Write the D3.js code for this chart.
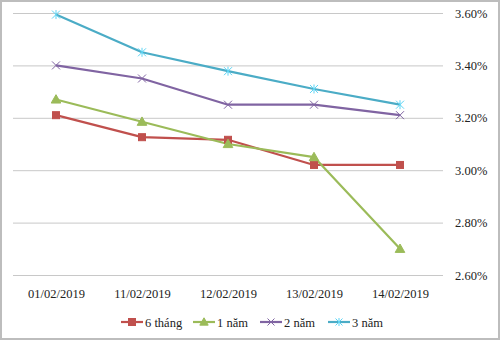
<!DOCTYPE html>
<html>
<head>
<meta charset="utf-8">
<script src="https://cdn.jsdelivr.net/npm/d3@7"></script>
<style>
  html, body { margin: 0; padding: 0; background: #fff; }
  svg { display: block; }
  text { font-family: "Liberation Serif", "Times New Roman", serif; fill: #222; }
</style>
</head>
<body>
<svg id="chart" width="500" height="340"></svg>
<script>
// Interest rates by term (%)
const dates = ["01/02/2019", "11/02/2019", "12/02/2019", "13/02/2019", "14/02/2019"];
const seriesNames = ["6 tháng", "1 năm", "2 năm", "3 năm"];
const sixMonths = [3.21, 3.126, 3.116, 3.02, 3.02];
const oneYear = [3.27, 3.185, 3.10, 3.05, 2.70];
const twoYears = [3.40, 3.35, 3.25, 3.25, 3.21];
const threeYears = [3.594, 3.45, 3.378, 3.31, 3.25];
const yTicks = [2.6, 2.8, 3.0, 3.2, 3.4, 3.6];

const colors = ["#C0504D", "#9BBB59", "#8064A2", "#4BACC6"];
const markers = ["square", "triangle", "cross", "star"];
const series = [sixMonths, oneYear, twoYears, threeYears].map((values, i) => ({
  name: seriesNames[i], values, color: colors[i], marker: markers[i]
}));

const svg = d3.select("#chart");
const W = 500, H = 340;

// outer frame
svg.append("rect").attr("x", 1).attr("y", 1).attr("width", W - 2).attr("height", H - 2)
  .attr("fill", "#fff").attr("stroke", "#bdbdbd").attr("stroke-width", 2);

const plot = { left: 13, right: 443, top: 13, bottom: 275 };

const x = d3.scalePoint().domain(dates).range([plot.left, plot.right]).padding(0.5);
const y = d3.scaleLinear().domain([2.6, 3.6]).range([plot.bottom, plot.top]);

// horizontal gridlines + right axis labels
const yAxis = d3.axisRight(y).tickValues(yTicks)
  .tickSize(plot.right - plot.left)
  .tickFormat(d => d.toFixed(2) + "%");
const gy = svg.append("g").attr("transform", `translate(${plot.left},0)`).call(yAxis);
gy.select(".domain").remove();
gy.selectAll(".tick line").attr("stroke", "#c8c8c8").attr("stroke-width", 1);
gy.selectAll(".tick text").attr("x", plot.right - plot.left + 12)
  .attr("font-size", 12.5).attr("fill", "#222")
  .attr("font-family", "Liberation Serif, serif");

// category labels
const xAxis = d3.axisBottom(x).tickSize(0).tickPadding(14);
const gx = svg.append("g").attr("transform", `translate(0,${plot.bottom})`).call(xAxis);
gx.select(".domain").remove();
gx.selectAll(".tick text").attr("font-size", 12.5).attr("fill", "#222")
  .attr("font-family", "Liberation Serif, serif");

function drawMarker(g, type, color, size) {
  const s = size;
  if (type === "square") {
    g.append("rect").attr("x", -s / 2).attr("y", -s / 2).attr("width", s).attr("height", s)
      .attr("fill", color).attr("stroke", color);
  } else if (type === "triangle") {
    g.append("path").attr("d", `M0,${-s * 0.6}L${s * 0.6},${s * 0.45}L${-s * 0.6},${s * 0.45}Z`)
      .attr("fill", color).attr("stroke", color);
  } else if (type === "cross") {
    const h = s / 2;
    g.append("path").attr("d", `M${-h},${-h}L${h},${h}M${-h},${h}L${h},${-h}`)
      .attr("stroke", color).attr("stroke-width", 1).attr("fill", "none");
  } else if (type === "star") {
    const h = s / 2;
    g.append("path").attr("d", `M${-h},${-h}L${h},${h}M${-h},${h}L${h},${-h}M0,${-h - 0.5}L0,${h + 0.5}`)
      .attr("stroke", d3.color(color).brighter(0.6)).attr("stroke-width", 1).attr("fill", "none");
  }
}

const line = d3.line().x((d, i) => x(dates[i])).y(d => y(d));

series.forEach(s => {
  svg.append("path").datum(s.values).attr("d", line)
    .attr("fill", "none").attr("stroke", s.color).attr("stroke-width", 2.2)
    .attr("stroke-linejoin", "round");
});
series.forEach(s => {
  s.values.forEach((v, i) => {
    const g = svg.append("g").attr("transform", `translate(${x(dates[i])},${y(v)})`);
    drawMarker(g, s.marker, s.color, s.marker === "square" ? 7 : 8);
  });
});

// legend
const legendX = [121, 193, 260, 328];
const legendY = 322;
series.forEach((s, i) => {
  const g = svg.append("g").attr("transform", `translate(${legendX[i]},${legendY})`);
  g.append("line").attr("x1", 0).attr("x2", 22).attr("y1", 0).attr("y2", 0)
    .attr("stroke", s.color).attr("stroke-width", 2.2);
  const m = g.append("g").attr("transform", "translate(11,0)");
  drawMarker(m, s.marker, s.color, s.marker === "square" ? 7 : 7);
  g.append("text").attr("x", 24).attr("y", 4.5).attr("font-size", 12.5).text(s.name);
});
</script>
</body>
</html>
